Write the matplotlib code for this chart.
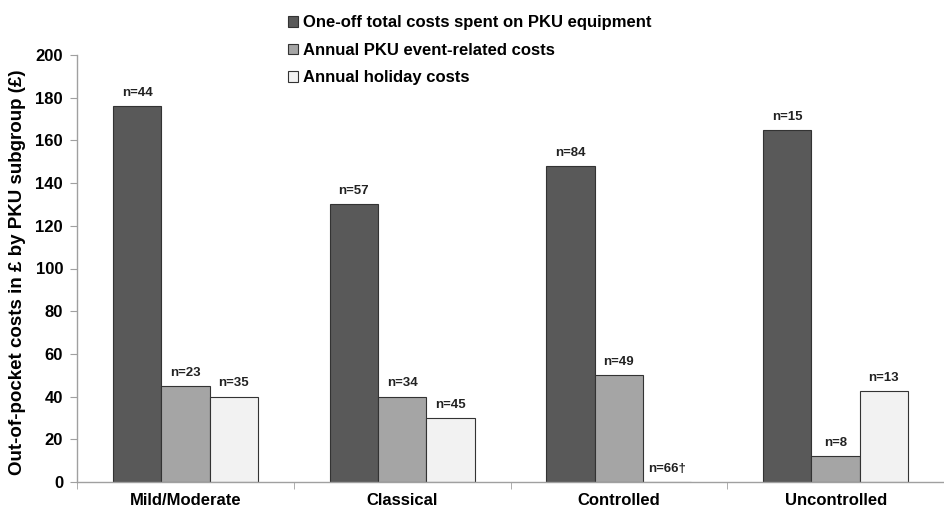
import matplotlib
matplotlib.use('Agg')
import matplotlib.pyplot as plt
from matplotlib.patches import Patch
import numpy as np

#data
groups = ['Mild/Moderate', 'Classical', 'Controlled', 'Uncontrolled']
series = ['One-off total costs spent on PKU equipment',
          'Annual PKU event-related costs',
          'Annual holiday costs']
equipment = [176, 130, 148, 165]
events = [45, 40, 50, 12]
holidays = [40, 30, 0, 42.5]
n_equipment = ['n=44', 'n=57', 'n=84', 'n=15']
n_events = ['n=23', 'n=34', 'n=49', 'n=8']
n_holidays = ['n=35', 'n=45', 'n=66\u2020', 'n=13']

colors = ['#595959', '#a5a5a5', '#f2f2f2']
font = ['Liberation Sans', 'DejaVu Sans']

fig = plt.figure(figsize=(9.44, 5.11), dpi=100)
ax = fig.add_axes([77/944, 29/511, 1 - 77/944, (482 - 55)/511])

x = np.arange(len(groups))
w = 49/220
values = [equipment, events, holidays]
labels = [n_equipment, n_events, n_holidays]
for k in range(3):
    pos = x + (k - 1)*w
    ax.bar(pos, values[k], width=w, color=colors[k], edgecolor='#333333', linewidth=0.8)
    for xi, yi, lab in zip(pos, values[k], labels[k]):
        ax.annotate(lab, xy=(xi, yi), xytext=(0, 9.5), textcoords='offset points',
                    ha='center', va='center', fontsize=9.5, fontweight='bold',
                    family=font, color='#222222')

ax.set_xlim(-0.5, -0.5 + (944 - 77)/220)
ax.set_ylim(0, 200)
ax.set_yticks(range(0, 201, 20))
ax.set_xticks(x)
ax.set_xticklabels(groups, fontsize=12, fontweight='bold', family=font)
ax.set_xticks(np.arange(len(groups) + 1) - 0.5, minor=True)
ax.tick_params(axis='x', which='major', length=0, pad=8)
ax.tick_params(axis='x', which='minor', length=5, color='#a0a0a0', direction='out')
ax.tick_params(axis='y', length=5, color='#a0a0a0', labelsize=12, pad=5)
for t in ax.get_yticklabels():
    t.set_fontweight('bold')
    t.set_family(font)

for s in ['top', 'right']:
    ax.spines[s].set_visible(False)
for s in ['left', 'bottom']:
    ax.spines[s].set_color('#a0a0a0')
    ax.spines[s].set_linewidth(1)

fig.text(18/944, 1 - 272/511, 'Out-of-pocket costs in \u00a3 by PKU subgroup (\u00a3)',
         rotation=90, ha='center', va='center', fontsize=13.5, fontweight='bold',
         family=font)

handles = [Patch(facecolor=c, edgecolor='#333333', linewidth=0.8) for c in colors]
fig.legend(handles, series, loc='upper left', bbox_to_anchor=(280/944, 1 - 7/511),
           frameon=False, handlelength=0.6, handleheight=0.6, handletextpad=0.3,
           labelspacing=0.75, borderpad=0,
           prop=dict(family=font, weight='bold', size=12))

fig.savefig('out.png', dpi=100)
